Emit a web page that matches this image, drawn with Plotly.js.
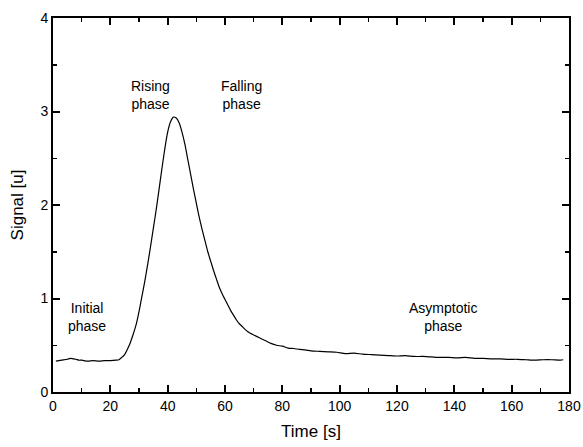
<!DOCTYPE html>
<html>
<head>
<meta charset="utf-8">
<script src="https://cdn.plot.ly/plotly-3.0.1.min.js"></script>
<style>html,body{margin:0;padding:0;background:#fff;}#chart{width:583px;height:447px;}</style>
</head>
<body>
<div id="chart"></div>
<script>
var timeS = [1,3,5,6,7,8,9,10,12,14,16,18,20,22,23,24,25,26,27,28,29,30,31,32,33,34,35,36,37,38,39,40,41,42,43,44,45,46,47,48,49,50,51,52,53,54,55,56,57,58,59,60,61,62,63,64,65,66,67,68,69,70,72,74,76,78,80,82,84,86,88,90,93,96,99,102,105,108,111,114,117,120,123,126,129,132,135,138,141,144,147,150,153,156,159,162,165,168,171,174,177,178];
var signal = [0.33,0.34,0.35,0.36,0.355,0.35,0.34,0.34,0.33,0.335,0.33,0.335,0.335,0.34,0.345,0.37,0.40,0.46,0.53,0.62,0.72,0.86,1.02,1.18,1.36,1.55,1.75,1.95,2.17,2.39,2.60,2.78,2.89,2.94,2.93,2.88,2.78,2.65,2.49,2.33,2.17,2.02,1.87,1.74,1.62,1.50,1.40,1.30,1.21,1.12,1.05,0.99,0.93,0.87,0.82,0.77,0.73,0.70,0.67,0.645,0.625,0.61,0.58,0.55,0.52,0.50,0.49,0.47,0.465,0.455,0.45,0.44,0.435,0.43,0.425,0.41,0.415,0.405,0.40,0.395,0.39,0.385,0.39,0.38,0.38,0.375,0.37,0.37,0.365,0.37,0.36,0.36,0.355,0.355,0.35,0.35,0.345,0.34,0.345,0.345,0.34,0.345];
var phaseLabels = ["Rising<br>phase","Falling<br>phase","Initial<br>phase","Asymptotic<br>phase"];
var phaseX = [33.9,65.7,11.7,136.2];
var phaseY = [3.18,3.18,0.80,0.80];
var xTicks = [0,20,40,60,80,100,120,140,160,180];
var yTicks = [0,1,2,3,4];

var FONT = 'Liberation Sans, Arial, sans-serif';
var annotations = phaseLabels.map(function(t,i){
  return {x:phaseX[i], y:phaseY[i], xref:'x', yref:'y', text:t, showarrow:false,
    font:{family:FONT, size:14, color:'#000'}};
});

var axisCommon = {showline:true, linecolor:'#000', linewidth:2, mirror:'ticks', ticks:'inside', ticklen:7, tickwidth:2, tickcolor:'#000', showgrid:false, zeroline:false,
  tickfont:{family:FONT, size:14, color:'#000'}};

var layout = {
  width:583, height:447,
  margin:{l:53, r:14, t:18, b:55},
  paper_bgcolor:'#fff', plot_bgcolor:'#fff',
  showlegend:false,
  xaxis:Object.assign({}, axisCommon, {range:[0,180], tickvals:xTicks, ticktext:xTicks.map(String),
    minor:{dtick:10, ticks:'inside', ticklen:4, tickwidth:1.5, tickcolor:'#000'},
    title:{text:'Time [s]', font:{family:FONT, size:17, color:'#000'}, standoff:12}}),
  yaxis:Object.assign({}, axisCommon, {range:[0,4], tickvals:yTicks, ticktext:yTicks.map(String),
    minor:{dtick:0.5, ticks:'inside', ticklen:4, tickwidth:1.5, tickcolor:'#000'},
    title:{text:'Signal [u]', font:{family:FONT, size:17, color:'#000'}, standoff:12}}),
  annotations:annotations
};

Plotly.newPlot('chart', [{x:timeS, y:signal, type:'scatter', mode:'lines', line:{color:'#000', width:1.2, shape:'spline', smoothing:0.6}}], layout, {displayModeBar:false, staticPlot:true});
</script>
</body>
</html>
